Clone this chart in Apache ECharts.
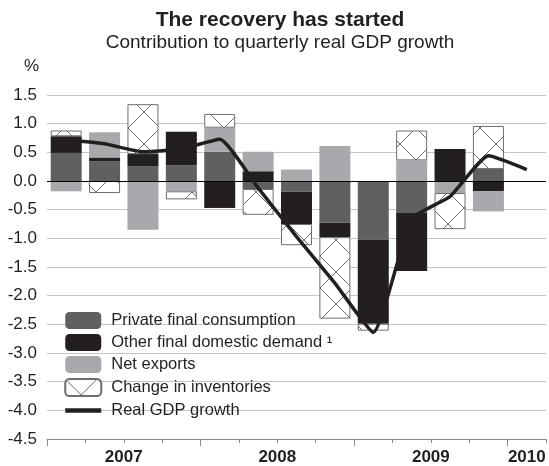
<!DOCTYPE html>
<html>
<head>
<meta charset="utf-8">
<script src="https://cdn.jsdelivr.net/npm/echarts@6/dist/echarts.min.js"></script>
<style>
  html, body { margin: 0; padding: 0; background: #fff; }
  #chart { width: 549px; height: 466px; }
</style>
</head>
<body>
<div id="chart"></div>
<script>
// quarters 2007Q1 .. 2010Q1
var quarters = ['2007Q1', '2007Q2', '2007Q3', '2007Q4', '2008Q1', '2008Q2', '2008Q3', '2008Q4',
                '2009Q1', '2009Q2', '2009Q3', '2009Q4', '2010Q1'];
var privCons    = [0.49, 0.34, 0.26, 0.27, 0.51, -0.14, -0.19, -0.73, -1.02, -0.55, 0, 0.21, null];
var otherDem    = [0.29, 0.07, 0.21, 0.59, -0.47, 0.17, -0.56, -0.25, -1.47, -1.02, 0.56, -0.18, null];
var netExports  = [-0.18, 0.44, -0.85, -0.18, 0.42, 0.34, 0.20, 0.61, 0, 0.36, -0.21, -0.35, null];
var inventories = [0.10, -0.21, 0.87, -0.14, 0.24, -0.45, -0.37, -1.42, -0.12, 0.52, -0.63, 0.75, null];
var gdpGrowth   = [0.72, 0.65, 0.51, 0.56, 0.73, -0.12, -0.97, -1.78, -2.64, -0.66, -0.27, 0.44, 0.20];

// year labels sit on a 0..13 value axis laid over the quarters
var yearPos = [2, 6, 10, 12.5];
var yearLabels = ['2007', '2008', '2009', '2010'];
var yearTicks = [0, 4, 8, 12];

var font = '"Liberation Sans", Arial, sans-serif';

// cross hatch for inventories
var hatch = document.createElement('canvas');
hatch.width = 32;
hatch.height = 32;
var ctx = hatch.getContext('2d');
ctx.fillStyle = '#fff';
ctx.fillRect(0, 0, 32, 32);
ctx.strokeStyle = '#6d6e71';
ctx.lineWidth = 1;
ctx.beginPath();
ctx.moveTo(0, 0); ctx.lineTo(32, 32);
ctx.moveTo(32, 0); ctx.lineTo(0, 32);
ctx.stroke();

var chart = echarts.init(document.getElementById('chart'), null, { renderer: 'canvas' });

function barSeries(name, data, style) {
    return {
        name: name,
        type: 'bar',
        stack: 'gdp',
        barWidth: 31,
        data: data,
        itemStyle: style
    };
}

var option = {
    animation: false,
    backgroundColor: '#fff',
    textStyle: { fontFamily: font },
    title: {
        text: 'The recovery has started',
        subtext: 'Contribution to quarterly real GDP growth',
        left: 275,
        textAlign: 'center',
        top: 5,
        itemGap: 2,
        textStyle: { fontFamily: font, fontSize: 21, fontWeight: 'bold', color: '#231f20' },
        subtextStyle: { fontFamily: font, fontSize: 19, color: '#231f20' }
    },
    legend: {
        orient: 'vertical',
        left: 58,
        top: 307,
        itemWidth: 36,
        itemHeight: 17,
        itemGap: 5,
        selectedMode: false,
        textStyle: { fontFamily: font, fontSize: 16.5, color: '#231f20', padding: [0, 0, 0, 5] },
        data: ['Private final consumption', 'Other final domestic demand \u00b9', 'Net exports',
               'Change in inventories',
               { name: 'Real GDP growth', itemStyle: { opacity: 0 }, lineStyle: { width: 4.5, color: '#231f20' } }]
    },
    grid: { left: 47, right: 3, top: 95, bottom: 21 },
    xAxis: [
        {
            type: 'category',
            data: quarters,
            position: 'bottom',
            axisLine: { onZero: false, lineStyle: { color: '#8a8a8a' } },
            axisTick: { show: true, interval: 0, length: 4, lineStyle: { color: '#8a8a8a' } },
            axisLabel: { show: false },
            splitLine: { show: false }
        },
        {
            type: 'value',
            min: 0,
            max: 13,
            position: 'bottom',
            axisLine: { show: false, onZero: false },
            axisTick: { show: true, length: 7, customValues: yearTicks, lineStyle: { color: '#8a8a8a' } },
            axisLabel: {
                customValues: yearPos,
                margin: 10,
                fontFamily: font,
                fontSize: 17,
                fontWeight: 'bold',
                color: '#231f20',
                formatter: function (v) { return yearLabels[yearPos.indexOf(v)]; }
            },
            splitLine: { show: false }
        }
    ],
    yAxis: {
        type: 'value',
        min: -4.5,
        max: 1.5,
        interval: 0.5,
        name: '%',
        nameLocation: 'end',
        nameGap: 20,
        nameTextStyle: { fontFamily: font, fontSize: 17, color: '#231f20', align: 'right', padding: [0, 8, 0, 0] },
        axisLine: { show: false },
        axisTick: { show: false },
        axisLabel: {
            margin: 10,
            fontFamily: font,
            fontSize: 17,
            color: '#231f20',
            formatter: function (v) { return v.toFixed(1); }
        },
        splitLine: { lineStyle: { color: '#c4c4c4', width: 1 } }
    },
    series: [
        barSeries('Private final consumption', privCons, { color: '#606060' }),
        barSeries('Other final domestic demand \u00b9', otherDem, { color: '#231f20' }),
        barSeries('Net exports', netExports, { color: '#a7a9ac' }),
        barSeries('Change in inventories', inventories,
            { color: { image: hatch, repeat: 'repeat' }, borderColor: '#6d6e71', borderWidth: 1 }),
        {
            name: 'Real GDP growth',
            type: 'line',
            data: gdpGrowth,
            symbol: 'none',
            smooth: 0.15,
            z: 5,
            lineStyle: { color: '#231f20', width: 3.5 },
            itemStyle: { color: '#231f20' },
            markLine: {
                silent: true,
                symbol: ['none', 'none'],
                label: { show: false },
                lineStyle: { color: '#000', width: 1, type: 'solid' },
                data: [{ yAxis: 0 }]
            }
        }
    ]
};

chart.setOption(option);
</script>
</body>
</html>
